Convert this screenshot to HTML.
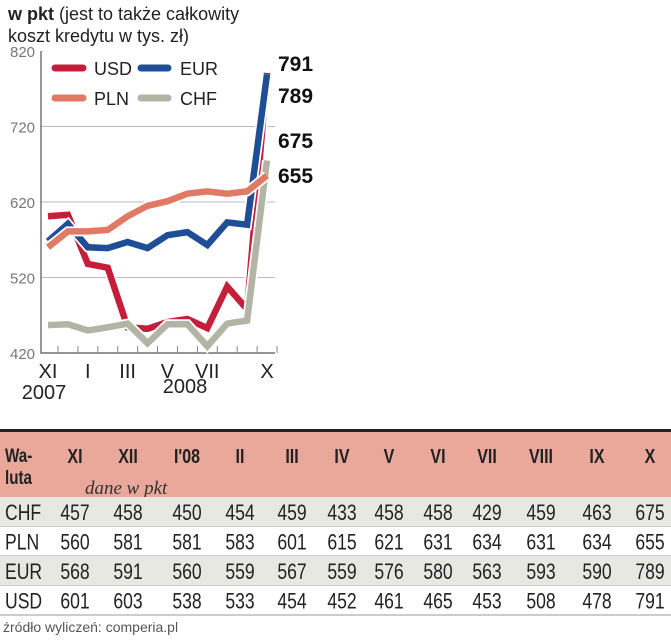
<!DOCTYPE html>
<html><head><meta charset="utf-8"><style>
body{margin:0;background:#fff;width:671px;height:640px;overflow:hidden}
svg{display:block}
text{font-family:"Liberation Sans",sans-serif}
</style></head><body>
<svg id="c" width="671" height="640">
<text x="8" y="20" font-size="18" fill="#222"><tspan font-weight="bold">w pkt</tspan> (jest to także całkowity</text>
<text x="8" y="42" font-size="18" fill="#222">koszt kredytu w tys. zł)</text>
<g id="plot"></g>
<g id="legend">
<line x1="55" y1="68" x2="83" y2="68" stroke="#c41e3a" stroke-width="7" stroke-linecap="round"/>
<text x="94" y="75" font-size="18" fill="#222">USD</text>
<line x1="141" y1="68" x2="168" y2="68" stroke="#1f4e96" stroke-width="7" stroke-linecap="round"/>
<text x="180" y="75" font-size="18" fill="#222">EUR</text>
<line x1="55" y1="98" x2="83" y2="98" stroke="#e07a65" stroke-width="7" stroke-linecap="round"/>
<text x="94" y="105" font-size="18" fill="#222">PLN</text>
<line x1="141" y1="98" x2="168" y2="98" stroke="#b4b4a6" stroke-width="7" stroke-linecap="round"/>
<text x="180" y="105" font-size="18" fill="#222">CHF</text>
</g>
<g id="table">
<rect x="0" y="429" width="671" height="3" fill="#222"/>
<rect x="0" y="432" width="671" height="65" fill="#e9a89a"/>
<text transform="translate(5,462) scale(0.8,1)" font-size="19" font-weight="bold" fill="#222">Wa-</text>
<text transform="translate(5,484) scale(0.8,1)" font-size="19" font-weight="bold" fill="#222">luta</text>
<text x="85" y="494" font-size="19" font-style="italic" fill="#333" style="font-family:'Liberation Serif',serif">dane w pkt</text>
</g>
<text x="3" y="632" font-size="14" fill="#555">źródło wyliczeń: comperia.pl</text>
</svg>
<script>
const months=["XI","XII","I'08","II","III","IV","V","VI","VII","VIII","IX","X"];
const chf=[457,458,450,454,459,433,458,458,429,459,463,675];
const pln=[560,581,581,583,601,615,621,631,634,631,634,655];
const eur=[568,591,560,559,567,559,576,580,563,593,590,789];
const usd=[601,603,538,533,454,452,461,465,453,508,478,791];
const yTicks=[420,520,620,720,820];
const xTickLabels=[["XI",0],["I",2],["III",4],["V",6],["VII",8],["X",11]];
const endLabels=[791,789,675,655];
const NS="http://www.w3.org/2000/svg";
const x0=48,x1=267,yTop=51,yBot=353;
const xs=i=>x0+(x1-x0)*i/(months.length-1);
const ys=v=>yBot-(v-420)/(820-420)*(yBot-yTop);
function mk(tag,attrs,parent){const e=document.createElementNS(NS,tag);for(const k in attrs)e.setAttribute(k,attrs[k]);parent.appendChild(e);return e;}
const plot=document.getElementById('plot');
yTicks.forEach(v=>{
  if(v>420&&v<820){const g=mk('line',{x1:41,x2:275,y1:ys(v),y2:ys(v),stroke:'#bbb','stroke-width':1},plot);
  
  }
  const t=mk('text',{x:10,y:ys(v)+6,'font-size':15,fill:'#777'},plot);t.textContent=v;
  
  
});
const ax=mk('path',{d:`M41 ${yTop} V${yBot} H275`,stroke:'#555','stroke-width':1.2,fill:'none'},plot);


months.forEach((m,i)=>{const t=mk('line',{x1:xs(i)+10,x2:xs(i)+10,y1:yBot-7,y2:yBot,stroke:'#888','stroke-width':1},plot);
  
  });
xTickLabels.forEach(([l,i])=>{const t=mk('text',{x:xs(i),y:378,'font-size':20,fill:'#222','text-anchor':'middle'},plot);t.textContent=l;
  
  });
[["2007",44,399],["2008",185,393]].forEach(([l,x,y])=>{const t=mk('text',{x:x,y:y,'font-size':20,fill:'#222','text-anchor':'middle'},plot);t.textContent=l;
  
  });
const series=[["usd",usd,"#c41e3a"],["eur",eur,"#1f4e96"],["chf",chf,"#b4b4a6"],["pln",pln,"#e07a65"]];
series.forEach(([n,d,c])=>{
  const pts=d.map((v,i)=>xs(i).toFixed(1)+','+ys(v).toFixed(1)).join(' ');
  const h=mk('polyline',{points:pts,fill:'none',stroke:'#fff','stroke-width':10,'stroke-linejoin':'miter'},plot);
  
  
  const l=mk('polyline',{points:pts,fill:'none',stroke:c,'stroke-width':6.5,'stroke-linejoin':'miter'},plot);
  
  
});
const ey=[64,96,141,176];
endLabels.forEach((v,i)=>{const t=mk('text',{x:278,y:ey[i]+7,'font-size':21,'font-weight':'bold',fill:'#111'},plot);t.textContent=v;
  
  });
const table=document.getElementById('table');
const colX=[75,128,187,240,292,342,389,438,487,541,597,650];
months.forEach((m,i)=>{const t=mk('text',{transform:`translate(${colX[i]},463) scale(0.8,1)`,'font-size':20,'font-weight':'bold',fill:'#222','text-anchor':'middle'},table);t.textContent=m;
  
  });
const rows=[["CHF",chf,"#e8e8e3"],["PLN",pln,"#fff"],["EUR",eur,"#e8e8e3"],["USD",usd,"#fff"]];
rows.forEach(([n,d,bg],r)=>{
  const y=497+r*29.5;
  const b=mk('rect',{x:0,y:y,width:671,height:29.5,fill:bg},table);
  
  
  const ln=mk('line',{x1:0,x2:671,y1:y+29.5,y2:y+29.5,stroke:'#999','stroke-width':1},table);
  
  
  const t=mk('text',{transform:`translate(5,${y+23}) scale(0.8,1)`,'font-size':22,fill:'#222'},table);t.textContent=n;
  
  
  d.forEach((v,i)=>{const c=mk('text',{transform:`translate(${colX[i]},${y+23}) scale(0.8,1)`,'font-size':22,fill:'#222','text-anchor':'middle'},table);c.textContent=v;
    
    });
});
</script>
</body></html>
